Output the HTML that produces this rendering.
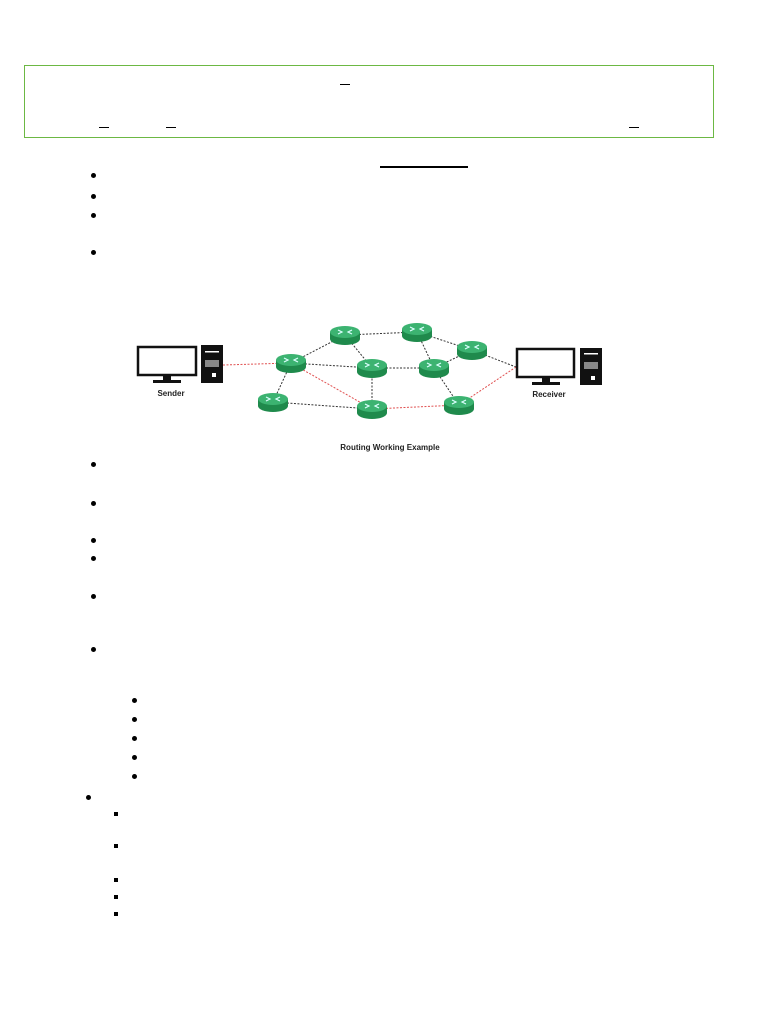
<!DOCTYPE html>
<html><head><style>
body{margin:0;width:768px;height:1024px;background:#fff;position:relative;font-family:"Liberation Sans",sans-serif;overflow:hidden}
.a{position:absolute}
.b{position:absolute;width:5px;height:5px;border-radius:50%;background:#000}
.s{position:absolute;width:4px;height:4px;background:#000}
.l{position:absolute;height:1px;background:#000}
</style></head><body>
<div class="a" style="left:24px;top:65px;width:688px;height:71px;border:1px solid #6cb843"></div>
<div class="l" style="left:340px;top:84px;width:10px"></div>
<div class="l" style="left:99px;top:127px;width:10px"></div>
<div class="l" style="left:166px;top:127px;width:10px"></div>
<div class="l" style="left:629px;top:127px;width:10px"></div>
<div class="l" style="left:380px;top:166px;width:88px;height:2px"></div>
<div class="b" style="left:91px;top:173px"></div>
<div class="b" style="left:91px;top:194px"></div>
<div class="b" style="left:91px;top:213px"></div>
<div class="b" style="left:91px;top:250px"></div>
<div class="b" style="left:91px;top:462px"></div>
<div class="b" style="left:91px;top:501px"></div>
<div class="b" style="left:91px;top:538px"></div>
<div class="b" style="left:91px;top:556px"></div>
<div class="b" style="left:91px;top:594px"></div>
<div class="b" style="left:91px;top:647px"></div>
<div class="b" style="left:132px;top:698px"></div>
<div class="b" style="left:132px;top:717px"></div>
<div class="b" style="left:132px;top:736px"></div>
<div class="b" style="left:132px;top:755px"></div>
<div class="b" style="left:132px;top:774px"></div>
<div class="b" style="left:86px;top:795px"></div>
<div class="s" style="left:114px;top:812px"></div>
<div class="s" style="left:114px;top:844px"></div>
<div class="s" style="left:114px;top:878px"></div>
<div class="s" style="left:114px;top:895px"></div>
<div class="s" style="left:114px;top:912px"></div>
<svg class="a" style="left:0;top:0" width="768" height="1024">
<defs>
<g id="r"><ellipse cx="0" cy="4" rx="15" ry="6" fill="#1f8a4c"/><rect x="-15" y="-3" width="30" height="7" fill="#1f8a4c"/><ellipse cx="0" cy="-3" rx="15" ry="6" fill="#3cb371"/><path d="M-7,-5 L-3,-3 L-7,-1 M7,-5 L3,-3 L7,-1" stroke="#dff" stroke-width="1.2" fill="none"/></g>
</defs>
<g stroke="#333" stroke-width="1" stroke-dasharray="2,1.5">
<line x1="291" y1="363" x2="345" y2="335"/><line x1="345" y1="335" x2="417" y2="332"/>
<line x1="417" y1="332" x2="472" y2="350"/><line x1="345" y1="335" x2="372" y2="368"/>
<line x1="417" y1="332" x2="434" y2="368"/><line x1="291" y1="363" x2="372" y2="368"/>
<line x1="372" y1="368" x2="434" y2="368"/><line x1="434" y1="368" x2="472" y2="350"/>
<line x1="472" y1="350" x2="516" y2="367"/><line x1="291" y1="363" x2="273" y2="402"/>
<line x1="273" y1="402" x2="372" y2="409"/><line x1="372" y1="368" x2="372" y2="409"/>
<line x1="434" y1="368" x2="459" y2="405"/>
</g>
<g stroke="#e05050" stroke-width="1" stroke-dasharray="2,1.5">
<line x1="223" y1="365" x2="291" y2="363"/><line x1="291" y1="363" x2="372" y2="409"/>
<line x1="372" y1="409" x2="459" y2="405"/><line x1="459" y1="405" x2="516" y2="367"/>
</g>
<use href="#r" x="345" y="335"/><use href="#r" x="417" y="332"/><use href="#r" x="472" y="350"/>
<use href="#r" x="291" y="363"/><use href="#r" x="372" y="368"/><use href="#r" x="434" y="368"/>
<use href="#r" x="273" y="402"/><use href="#r" x="372" y="409"/><use href="#r" x="459" y="405"/>
<rect x="138" y="347" width="58" height="28" fill="#fff" stroke="#111" stroke-width="2.5"/>
<rect x="163" y="375" width="8" height="5" fill="#111"/><rect x="153" y="380" width="28" height="3" fill="#111"/>
<rect x="201" y="345" width="22" height="38" fill="#111"/>
<rect x="205" y="351" width="14" height="1.5" fill="#fff"/><rect x="205" y="360" width="14" height="7" fill="#888"/><rect x="212" y="373" width="4" height="4" fill="#fff"/>
<rect x="517" y="349" width="57" height="28" fill="#fff" stroke="#111" stroke-width="2.5"/>
<rect x="542" y="377" width="8" height="5" fill="#111"/><rect x="532" y="382" width="28" height="3" fill="#111"/>
<rect x="580" y="348" width="22" height="37" fill="#111"/>
<rect x="584" y="353" width="14" height="1.5" fill="#fff"/><rect x="584" y="362" width="14" height="7" fill="#888"/><rect x="591" y="376" width="4" height="4" fill="#fff"/>
<text x="171" y="396" font-size="8" font-weight="bold" text-anchor="middle" fill="#222" font-family="Liberation Sans">Sender</text>
<text x="549" y="397" font-size="8" font-weight="bold" text-anchor="middle" fill="#222" font-family="Liberation Sans">Receiver</text>
<text x="390" y="450" font-size="8" font-weight="bold" text-anchor="middle" fill="#222" font-family="Liberation Sans">Routing Working Example</text>
</svg>
</body></html>
